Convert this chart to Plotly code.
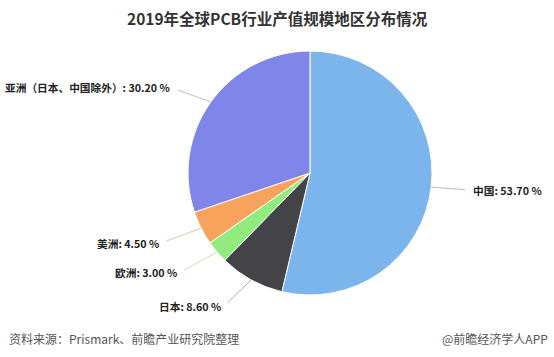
import math
import plotly.graph_objects as go

regions = ["中国", "日本", "欧洲", "美洲", "亚洲（日本、中国除外）"]
shares = [53.70, 8.60, 3.00, 4.50, 30.20]
colors = ["#7cb5ec", "#434348", "#90ed7d", "#f7a35c", "#8085e9"]
line_colors = ["#bbbbbb", "#aaaaaa", "#c8e0b0", "#e0c8a0", "#c0c0c0"]
# label offsets (pixels) from slice edge
offsets = [(40, 3), (-28, 27), (-38, 21), (-40, 15), (-39, -14)]

W, H = 554, 357
cx, cy, r = 310, 173, 122  # pie center / radius in pixels (top-left origin)

fig = go.Figure(go.Pie(
    labels=regions, values=shares, sort=False, direction="clockwise", rotation=0,
    marker=dict(colors=colors, line=dict(color="white", width=1)),
    textinfo="none", hoverinfo="label+percent", showlegend=False,
    domain=dict(x=[(cx - r) / W, (cx + r) / W], y=[(H - cy - r) / H, (H - cy + r) / H]),
))

total = sum(shares)
cum = 0
annotations = []
for name, v, lc, (ox, oy) in zip(regions, shares, line_colors, offsets):
    mid = (cum + v / 2) / total * 2 * math.pi
    cum += v
    px = cx + r * math.sin(mid)
    py = cy - r * math.cos(mid)
    annotations.append(dict(
        x=px / W, y=(H - py) / H, xref="paper", yref="paper",
        ax=ox, ay=oy, showarrow=True, arrowhead=0, arrowwidth=1, arrowcolor=lc,
        text=f"<b>{name}: {v:.2f} %</b>",
        xanchor="left" if ox > 0 else "right", yanchor="middle",
        font=dict(size=10.7, color="#222", family="Noto Sans CJK SC"),
        standoff=0, startstandoff=6,
    ))

annotations.append(dict(text="<b>2019年全球PCB行业产值规模地区分布情况</b>", x=0.5, y=1 - 18 / H,
                        xref="paper", yref="paper", showarrow=False, xanchor="center", yanchor="middle",
                        font=dict(size=15.5, color="#333", family="Noto Sans CJK SC")))
annotations.append(dict(text="资料来源：Prismark、前瞻产业研究院整理", x=7 / W, y=1 - 338 / H,
                        xref="paper", yref="paper", showarrow=False, xanchor="left", yanchor="middle",
                        font=dict(size=12, color="#555", family="Noto Sans CJK SC")))
annotations.append(dict(text="@前瞻经济学人APP", x=1 - 4 / W, y=1 - 338 / H,
                        xref="paper", yref="paper", showarrow=False, xanchor="right", yanchor="middle",
                        font=dict(size=12, color="#555", family="Noto Sans CJK SC")))

fig.update_layout(
    width=W, height=H, margin=dict(l=0, r=0, t=0, b=0),
    paper_bgcolor="white", plot_bgcolor="white",
    annotations=annotations,
)
fig.write_html("out.html")
